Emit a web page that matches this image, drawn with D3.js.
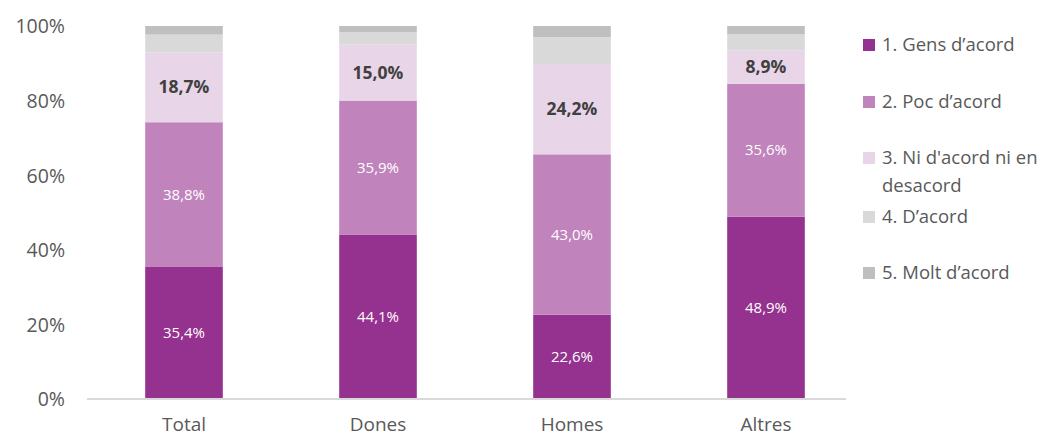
<!DOCTYPE html>
<html><head><meta charset="utf-8">
<script src="https://cdn.jsdelivr.net/npm/d3@7"></script>
<style>body{margin:0;background:#fff;} text{font-family:"Open Sans", sans-serif;}</style>
</head><body>
<svg id="c" width="1062" height="438"></svg>
<script>
const categories = ["Total", "Dones", "Homes", "Altres"];
const seriesNames = ["1. Gens d\u2019acord", "2. Poc d\u2019acord", "3. Ni d'acord ni en desacord", "4. D\u2019acord", "5. Molt d\u2019acord"];
const s1 = [35.4, 44.1, 22.6, 48.9];
const s2 = [38.8, 35.9, 43.0, 35.6];
const s3 = [18.7, 15.0, 24.2, 8.9];
const s4 = [4.8, 3.3, 7.2, 4.4];
const s5 = [2.3, 1.7, 3.0, 2.2];
const yTicks = [0, 20, 40, 60, 80, 100];
const colors = ["#95318E", "#C083BC", "#E9D5E8", "#D9D9D9", "#BFBFBF"];

const series = [s1, s2, s3, s4, s5];
const data = categories.map((c, i) => {
  const o = {cat: c};
  series.forEach((s, k) => o["s" + k] = s[i]);
  return o;
});
const keys = series.map((s, k) => "s" + k);
const stack = d3.stack().keys(keys)(data);

const svg = d3.select("#c");
const x = d3.scaleBand().domain(categories).range([87, 863]).paddingInner(0.6).paddingOuter(0.3);
const y = d3.scaleLinear().domain([0, 100]).range([399, 26]);

// y axis labels
const yAxis = svg.append("g").attr("transform", "translate(65,0)")
  .call(d3.axisLeft(y).tickValues(yTicks).tickSize(0).tickPadding(0).tickFormat(d => d + "%"));
yAxis.select(".domain").remove();
yAxis.selectAll("text").attr("fill", "#595959").style("font-size", "19.5px").attr("dy", "0.35em");

// bars
svg.append("g").selectAll("g").data(stack).join("g")
  .attr("fill", (d, i) => colors[i])
  .selectAll("rect").data(d => d).join("rect")
  .attr("x", d => x(d.data.cat))
  .attr("width", x.bandwidth())
  .attr("y", d => y(d[1]))
  .attr("height", d => y(d[0]) - y(d[1]));

// x axis
const xAxis = svg.append("g").attr("transform", "translate(0,399)")
  .call(d3.axisBottom(x).tickSize(0).tickPadding(0));
xAxis.select(".domain").attr("stroke", "#D9D9D9").attr("stroke-width", 2)
  .attr("d", "M87,0H846");
xAxis.selectAll("text").attr("fill", "#595959").style("font-size", "19px")
  .attr("y", 25).attr("dy", "0.35em");

// data labels
[0, 1, 2].forEach(k => {
  svg.append("g").selectAll("text").data(stack[k]).join("text")
    .attr("x", d => x(d.data.cat) + x.bandwidth() / 2)
    .attr("y", d => (y(d[0]) + y(d[1])) / 2)
    .attr("dy", "0.35em")
    .attr("text-anchor", "middle")
    .attr("fill", k === 2 ? "#404040" : "#FFFFFF")
    .style("font-size", k === 2 ? "17.5px" : "15px")
    .style("font-weight", k === 2 ? "bold" : "normal")
    .text(d => d3.format(".1f")(d[1] - d[0]).replace(".", ",") + "%");
});

// legend
const legendY = [45, 102, 158, 217, 273];
const lg = svg.append("g");
seriesNames.forEach((n, i) => {
  lg.append("rect").attr("x", 863).attr("y", legendY[i] - 6).attr("width", 12).attr("height", 12).attr("fill", colors[i]);
  const t = lg.append("text").attr("x", 882).attr("y", legendY[i]).attr("dy", "0.35em")
    .attr("fill", "#595959").style("font-size", "18.5px");
  if (i === 2) {
    t.append("tspan").attr("x", 882).text("3. Ni d'acord ni en");
    t.append("tspan").attr("x", 882).attr("dy", "28").text("desacord");
  } else {
    t.text(n);
  }
});
</script>
</body></html>
